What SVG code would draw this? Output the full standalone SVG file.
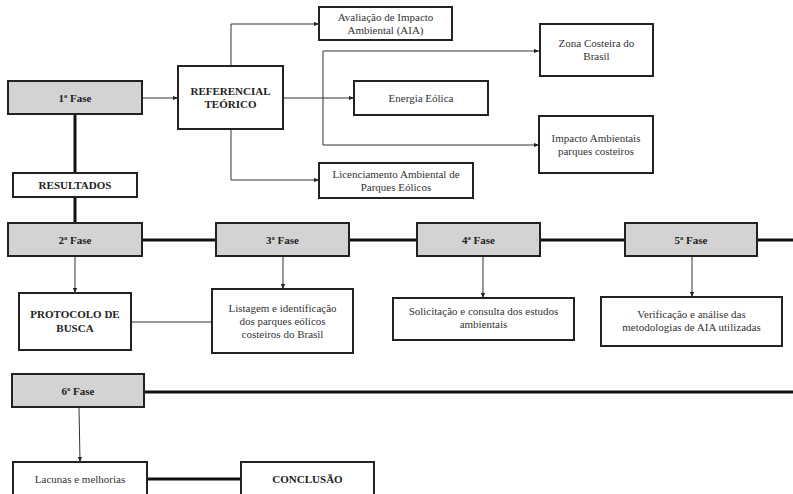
<svg xmlns="http://www.w3.org/2000/svg" width="793" height="494" viewBox="0 0 793 494">
<defs>
<marker id="ah" viewBox="0 0 6 6" refX="6" refY="3" markerWidth="5" markerHeight="5" markerUnits="userSpaceOnUse" orient="auto">
<path d="M0,0.5 L6,3 L0,5.5 z" fill="#222"/>
</marker>
<style>
.box{fill:#fff;stroke:#222;stroke-width:2}
.fase{fill:#d3d3d3;stroke:#222;stroke-width:2}
.t{font-family:'Liberation Serif','DejaVu Serif','Times New Roman',serif;font-size:11px;fill:#333;text-anchor:middle}
.b{font-family:'Liberation Serif','DejaVu Serif','Times New Roman',serif;font-size:11px;font-weight:bold;fill:#222;text-anchor:middle}
.thin{fill:none;stroke:#333;stroke-width:1}
.arr{fill:none;stroke:#333;stroke-width:1;marker-end:url(#ah)}
.thick{fill:none;stroke:#111;stroke-width:3}
</style>
</defs>
<rect width="793" height="494" fill="#fff"/>
<g id="connectors">
<path class="arr" d="M142,98 H178"/>
<path class="arr" d="M231,66 V24 H319"/>
<path class="arr" d="M231,129 V180 H319"/>
<path class="arr" d="M283,98 H354"/>
<path class="thin" d="M323,51 V145"/>
<path class="arr" d="M323,51 H539"/>
<path class="arr" d="M323,145 H539"/>
<path class="thick" d="M75,114 V173"/>
<path class="thick" d="M75,197 V223"/>
<path class="thick" d="M142,240 H216"/>
<path class="thick" d="M349,240 H417"/>
<path class="thick" d="M540,240 H625"/>
<path class="thick" d="M757,240 H793"/>
<path class="arr" d="M75,256 V293"/>
<path class="arr" d="M283,256 V289"/>
<path class="arr" d="M483,256 V298"/>
<path class="arr" d="M692,256 V297"/>
<path class="thin" d="M131,322 H212"/>
<path class="thick" d="M144,392 H793"/>
<path class="arr" d="M79,407 L80,462"/>
<path class="thick" d="M147,479 H241"/>
</g>
<g id="fase1"><rect class="fase" x="8" y="81" width="134" height="33"/><text class="b" x="75" y="101.5">1ª Fase</text></g>
<g id="referencial"><rect class="box" x="178" y="66" width="105" height="63"/><text class="b" x="230.5" y="95">REFERENCIAL</text><text class="b" x="230.5" y="108">TEÓRICO</text></g>
<g id="aia"><rect class="box" x="319" y="7" width="133" height="33"/><text class="t" x="385.5" y="21">Avaliação de Impacto</text><text class="t" x="385.5" y="34">Ambiental (AIA)</text></g>
<g id="energia"><rect class="box" x="354" y="81" width="134" height="34"/><text class="t" x="421" y="102">Energia Eólica</text></g>
<g id="zona"><rect class="box" x="540" y="24" width="113" height="52"/><text class="t" x="596.5" y="47">Zona Costeira do</text><text class="t" x="596.5" y="60">Brasil</text></g>
<g id="impacto"><rect class="box" x="539" y="116" width="114" height="57"/><text class="t" x="596" y="142">Impacto Ambientais</text><text class="t" x="596" y="155">parques costeiros</text></g>
<g id="licenciamento"><rect class="box" x="319" y="163" width="154" height="35"/><text class="t" x="396" y="178">Licenciamento Ambiental de</text><text class="t" x="396" y="191">Parques Eólicos</text></g>
<g id="resultados"><rect class="box" x="13" y="173" width="124" height="24"/><text class="b" x="75" y="189">RESULTADOS</text></g>
<g id="fase2"><rect class="fase" x="8" y="223" width="134" height="33"/><text class="b" x="75" y="243.5">2ª Fase</text></g>
<g id="fase3"><rect class="fase" x="216" y="223" width="133" height="33"/><text class="b" x="282.5" y="243.5">3ª Fase</text></g>
<g id="fase4"><rect class="fase" x="417" y="223" width="123" height="33"/><text class="b" x="478.5" y="243.5">4ª Fase</text></g>
<g id="fase5"><rect class="fase" x="625" y="223" width="132" height="33"/><text class="b" x="691" y="243.5">5ª Fase</text></g>
<g id="protocolo"><rect class="box" x="19" y="293" width="112" height="57"/><text class="b" x="75" y="318">PROTOCOLO DE</text><text class="b" x="75" y="332">BUSCA</text></g>
<g id="listagem"><rect class="box" x="212" y="289" width="141" height="64"/><text class="t" x="282.5" y="312">Listagem e identificação</text><text class="t" x="282.5" y="325">dos parques eólicos</text><text class="t" x="282.5" y="338">costeiros do Brasil</text></g>
<g id="solicitacao"><rect class="box" x="393" y="298" width="181" height="42"/><text class="t" x="483.5" y="315">Solicitação e consulta dos estudos</text><text class="t" x="483.5" y="328">ambientais</text></g>
<g id="verificacao"><rect class="box" x="601" y="297" width="181" height="49"/><text class="t" x="691.5" y="318">Verificação e análise das</text><text class="t" x="691.5" y="331">metodologias de AIA utilizadas</text></g>
<g id="fase6"><rect class="fase" x="12" y="374" width="132" height="33"/><text class="b" x="78" y="394.5">6ª Fase</text></g>
<g id="lacunas"><rect class="box" x="13" y="462" width="134" height="42"/><text class="t" x="80" y="483">Lacunas e melhorias</text></g>
<g id="conclusao"><rect class="box" x="241" y="462" width="133" height="42"/><text class="b" x="307.5" y="483">CONCLUSÃO</text></g>
</svg>
